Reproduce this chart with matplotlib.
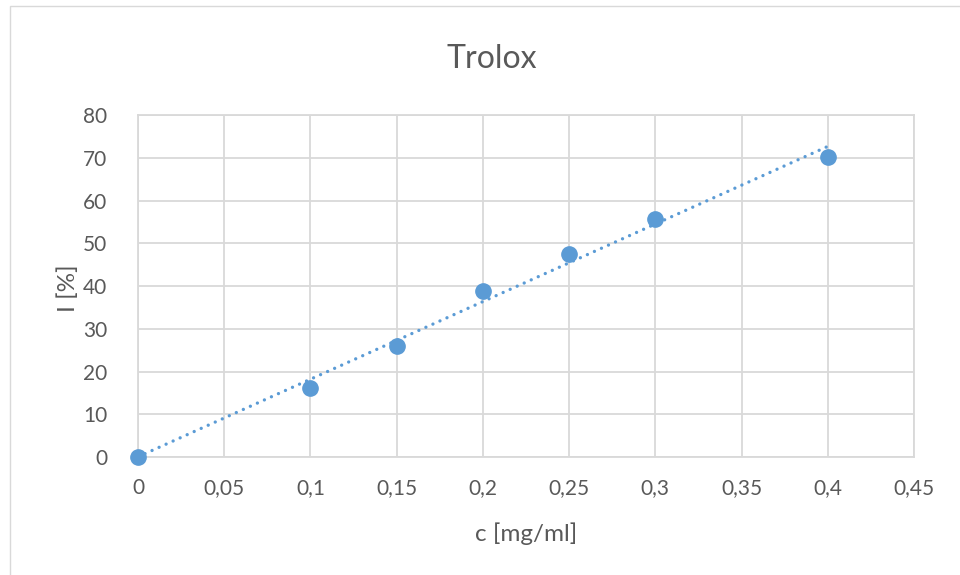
import numpy as np
import matplotlib
matplotlib.use('Agg')
import matplotlib.pyplot as plt
from matplotlib.patches import Rectangle
from matplotlib.ticker import FuncFormatter

# data
conc = [0, 0.1, 0.15, 0.2, 0.25, 0.3, 0.4]
inhibition = [0, 16.25, 25.9, 38.9, 47.6, 55.6, 70.2]

x_ticks = [0, 0.05, 0.1, 0.15, 0.2, 0.25, 0.3, 0.35, 0.4, 0.45]
y_ticks = [0, 10, 20, 30, 40, 50, 60, 70, 80]

text_col = '#595959'
grid_col = '#D9D9D9'
point_col = '#5B9BD5'

plt.rcParams['font.family'] = ['Lato', 'DejaVu Sans']

fig = plt.figure(figsize=(9.6, 5.75), dpi=100)
# chart area border (Excel style)
fig.patches.append(Rectangle((10 / 960, -0.1), 1.2, 1 - 6 / 575 + 0.1,
                             transform=fig.transFigure, fill=False,
                             edgecolor=grid_col, linewidth=1))

ax = fig.add_axes([138 / 960, 1 - 457 / 575, 776 / 960, 342 / 575])

# linear trendline (least squares, like Excel)
slope, intercept = np.polyfit(conc, inhibition, 1)
xs = np.array([min(conc), max(conc)])
ax.plot(xs, slope * xs + intercept, color=point_col, linewidth=2.4,
        linestyle=(0, (0.01, 2.3)), dash_capstyle='round', zorder=3)

ax.plot(conc, inhibition, linestyle='none', marker='o', markersize=11,
        color=point_col, zorder=4, clip_on=False)

ax.set_xlim(0, 0.45)
ax.set_ylim(0, 80)
ax.set_xticks(x_ticks)
ax.set_yticks(y_ticks)
ax.xaxis.set_major_formatter(FuncFormatter(lambda v, p: ('%g' % round(v, 2)).replace('.', ',')))
ax.tick_params(length=0, labelsize=15, labelcolor=text_col)
ax.tick_params(axis='x', pad=15)
ax.tick_params(axis='y', pad=22)
ax.grid(True, color=grid_col, linewidth=1.3)
ax.set_axisbelow(True)
for s in ax.spines.values():
    s.set_color(grid_col)
    s.set_linewidth(1.3)

ax.set_xlabel('c [mg/ml]', fontsize=17.5, color=text_col, labelpad=18)
ax.set_ylabel('I [%]', fontsize=17.5, color=text_col, va='center')
ax.yaxis.set_label_coords((68 - 138) / 776, (457 - 288) / 342)
fig.text(492 / 960, 1 - 59 / 575, 'Trolox', fontsize=23, color=text_col,
         ha='center', va='center')

fig.savefig('out.png', dpi=100)
